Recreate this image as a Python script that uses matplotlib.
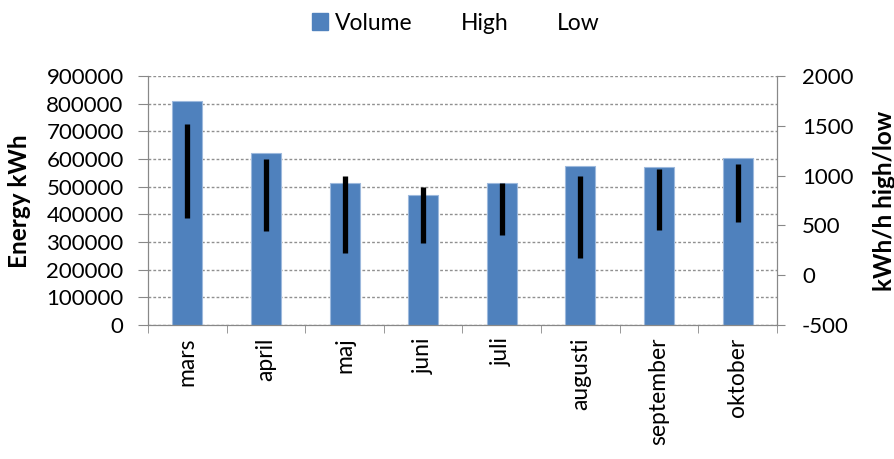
import numpy as np
import matplotlib
matplotlib.use('Agg')
import matplotlib.pyplot as plt
from matplotlib.patches import Patch
from matplotlib.lines import Line2D

plt.rcParams['font.family'] = ['Lato', 'DejaVu Sans']
plt.rcParams['axes.unicode_minus'] = False

months = ['mars', 'april', 'maj', 'juni', 'juli', 'augusti', 'september', 'oktober']
volume = [808000, 622000, 514000, 469000, 514000, 576000, 570000, 602000]
high = [1515, 1164, 996, 882, 929, 996, 1063, 1113]
low = [571, 440, 223, 326, 404, 169, 454, 531]

bar_color = '#4F81BD'
axis_gray = '#888888'

fig = plt.figure(figsize=(8.95, 4.59), dpi=100)
ax = fig.add_axes([148/895, 1-325/459, (777-148)/895, (325-76)/459])
ax2 = ax.twinx()

x = np.arange(len(months))
ax.bar(x, volume, width=0.38, color=bar_color, edgecolor='#9DB9DD', linewidth=0.8, zorder=2)
ax.set_ylim(0, 900000)
ax.set_xlim(-0.5, len(months)-0.5)
ax.set_yticks(np.arange(0, 900001, 100000))
ax.yaxis.grid(True, linestyle=(0, (2, 1.5)), color='#909090', linewidth=1.0, zorder=0)
ax.set_axisbelow(True)

ax.set_xticks(x)
ax.set_xticklabels(months, rotation=90, fontsize=16.5, va='top')
ax.set_xticks(np.arange(-0.5, len(months)), minor=True)
ax.tick_params(axis='x', which='major', length=0, pad=9)
ax.tick_params(axis='x', which='minor', length=6, color=axis_gray, direction='out')
ax.tick_params(axis='y', labelsize=16, length=7.5, direction='out', color=axis_gray, pad=10)

ax2.vlines(x, low, high, color='black', linewidth=3.8, zorder=3)
ax2.set_ylim(-500, 2000)
ax2.set_yticks(np.arange(-500, 2001, 500))
ax2.tick_params(axis='y', labelsize=16, length=6, direction='out', color=axis_gray, pad=12)

for a in (ax, ax2):
    for s in a.spines.values():
        s.set_color(axis_gray)
    a.spines['top'].set_visible(False)

fig.text(19.5/895, 1-201/459, 'Energy kWh', rotation=90, ha='center', va='center',
         fontsize=17.5, fontweight='bold')
fig.text(885/895, 1-201/459, 'kWh/h high/low', rotation=90, ha='center', va='center',
         fontsize=17.5, fontweight='bold')

handles = [Patch(facecolor=bar_color, edgecolor=bar_color),
           Line2D([], [], color='none'),
           Line2D([], [], color='none')]
fig.legend(handles, ['Volume', 'High', 'Low'], loc='center',
           bbox_to_anchor=(0.5 + 8/895, 1-23/459),
           ncol=3, frameon=False, fontsize=16.5, handlelength=0.7, handleheight=0.7,
           handletextpad=0.3, columnspacing=1.1)

fig.savefig('out.png', dpi=100)
